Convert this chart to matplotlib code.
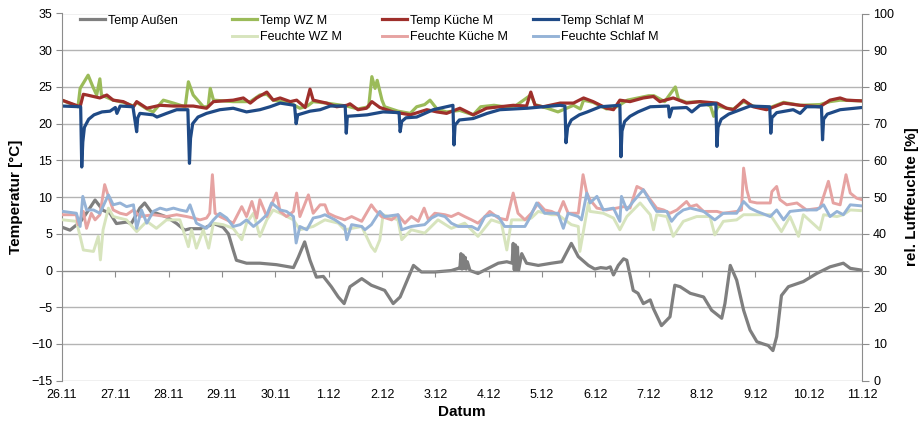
import matplotlib
matplotlib.use('Agg')
import matplotlib.pyplot as plt
from matplotlib.legend import Legend

plt.rcParams['font.family'] = ['Liberation Sans', 'DejaVu Sans']
plt.rcParams['font.size'] = 9

# Zeitachse in Tagen ab 26.11. 0:00
tage = ['26.11', '27.11', '28.11', '29.11', '30.11', '1.12', '2.12', '3.12',
        '4.12', '5.12', '6.12', '7.12', '8.12', '9.12', '10.12', '11.12']

# Temp Außen [°C]
t_aussen = [0, 0.15, 0.34, 0.43, 0.62, 0.77, 0.9, 1.02, 1.21, 1.3, 1.46, 1.55, 1.68, 1.77,
            1.96, 2.15, 2.3, 2.4, 2.65, 2.84, 3.02, 3.12, 3.21, 3.27, 3.46, 3.71, 4.02, 4.34,
            4.43, 4.55, 4.65, 4.77, 4.9, 5.05, 5.18, 5.29, 5.4, 5.62, 5.8, 6.05, 6.21, 6.34,
            6.59, 6.74, 6.99, 7.3, 7.43, 7.46, 7.48, 7.5, 7.52, 7.54, 7.56, 7.58, 7.6, 7.65,
            7.8, 7.99, 8.18, 8.34, 8.44, 8.46, 8.48, 8.5, 8.52, 8.54, 8.56, 8.62, 8.71, 8.93,
            9.18, 9.37, 9.55, 9.68, 9.87, 9.99, 10.1, 10.21, 10.28, 10.34, 10.43, 10.53, 10.59,
            10.65, 10.71, 10.8, 10.9, 11.03, 11.09, 11.24, 11.4, 11.49, 11.59, 11.78, 12.03,
            12.18, 12.37, 12.43, 12.53, 12.65, 12.78, 12.9, 13.03, 13.15, 13.24, 13.33, 13.4,
            13.49, 13.62, 13.9, 14.15, 14.4, 14.65, 14.78, 15.0]
v_aussen = [5.9, 5.5, 6.6, 7.5, 9.6, 8.2, 7.8, 6.4, 6.6, 6.4, 8.5, 9.2, 7.9, 7.8,
            7.3, 6.4, 5.5, 5.7, 5.7, 6.4, 5.9, 5.0, 2.8, 1.4, 1.0, 1.0, 0.8, 0.4,
            1.8, 3.9, 1.4, -0.9, -0.8, -2.2, -3.6, -4.5, -2.2, -1.1, -2.0, -2.7, -4.5, -3.6,
            0.7, -0.2, -0.2, 0.0, 0.3, 0.3, 2.3, 0.2, 2.1, 0.3, 1.8, 0.2, 1.2, 0.0,
            -0.4, 0.3, 1.0, 1.2, 1.0, 3.7, 0.1, 3.5, 0.1, 3.2, 0.0, 2.3, 1.0, 0.7,
            1.0, 1.2, 3.7, 1.9, 0.7, 0.2, 0.4, 0.3, 0.5, -0.6, 0.7, 1.6, 1.4,
            -0.6, -2.7, -3.1, -4.5, -4.0, -5.2, -7.5, -6.3, -2.0, -2.2, -3.1, -3.6,
            -5.4, -6.5, -4.5, 0.7, -1.3, -5.4, -8.1, -9.7, -10.0, -10.2, -10.9, -9.0,
            -3.4, -2.2, -1.5, -0.4, 0.5, 1.0, 0.3, 0.05]

# Temp WZ M [°C]
t_wz = [0, 0.3, 0.34, 0.49, 0.58, 0.65, 0.71, 0.74, 0.96, 1.15, 1.34, 1.4, 1.59, 1.71,
        1.9, 2.09, 2.31, 2.37, 2.46, 2.65, 2.74, 2.78, 2.84, 3.21, 3.53, 3.71, 3.84, 3.96,
        4.28, 4.46, 4.6, 4.71, 4.96, 5.34, 5.55, 5.75, 5.81, 5.87, 5.91, 6.0, 6.05, 6.3,
        6.53, 6.65, 6.8, 6.9, 7.03, 7.21, 7.46, 7.71, 7.85, 8.1, 8.3, 8.5, 8.79, 8.87,
        9.1, 9.3, 9.59, 9.72, 9.78, 9.96, 10.21, 10.4, 10.6, 10.8, 11.0, 11.1, 11.3, 11.5,
        11.56, 11.71, 11.96, 12.16, 12.22, 12.3, 12.46, 12.59, 12.78, 12.96, 13.21, 13.53,
        13.84, 14.21, 14.4, 14.59, 15.0]
v_wz = [23.2, 22.3, 24.8, 26.6, 25.0, 23.9, 26.1, 23.9, 23.2, 22.9, 22.4, 22.9, 22.0, 21.6,
        23.2, 22.8, 22.3, 25.7, 23.9, 22.3, 22.3, 24.8, 23.2, 23.0, 23.0, 23.9, 24.0, 23.2,
        22.8, 22.1, 22.4, 23.0, 22.8, 22.4, 22.0, 22.3, 26.4, 24.8, 25.9, 23.2, 22.3, 21.7,
        21.4, 22.3, 22.6, 23.2, 22.0, 21.6, 21.8, 21.2, 22.3, 22.5, 22.3, 22.4, 23.9, 22.6,
        22.1, 21.6, 22.5, 22.0, 23.2, 22.9, 22.0, 22.3, 23.2, 23.5, 23.8, 23.8, 23.0, 25.0,
        23.3, 22.9, 23.0, 22.4, 21.0, 22.4, 22.1, 22.0, 23.0, 22.4, 22.0, 22.9,
        22.5, 22.6, 23.0, 23.2, 23.1]

# Temp Küche M [°C]
t_kueche = [0, 0.34, 0.4, 0.47, 0.71, 0.84, 0.96, 1.15, 1.34, 1.4, 1.59, 1.84, 2.09, 2.46,
            2.71, 2.84, 3.21, 3.4, 3.53, 3.65, 3.84, 3.96, 4.09, 4.28, 4.4, 4.56, 4.65, 4.71,
            4.96, 5.15, 5.34, 5.4, 5.55, 5.71, 5.81, 5.96, 6.21, 6.53, 6.84, 7.03, 7.21, 7.46,
            7.71, 7.96, 8.21, 8.46, 8.71, 8.79, 8.87, 9.02, 9.34, 9.59, 9.78, 9.96, 10.21,
            10.34, 10.46, 10.65, 10.9, 11.09, 11.21, 11.46, 11.71, 11.96, 12.28, 12.46, 12.59,
            12.78, 12.96, 13.21, 13.53, 13.84, 14.21, 14.4, 14.59, 14.71, 15.0]
v_kueche = [23.2, 22.3, 24.0, 23.9, 23.5, 23.9, 23.2, 23.0, 22.3, 23.0, 22.1, 22.5, 22.4, 22.4,
            22.1, 23.0, 23.2, 23.5, 22.8, 23.5, 24.3, 23.2, 23.5, 23.0, 23.2, 22.2, 24.7, 23.2,
            22.8, 22.3, 22.5, 22.7, 21.9, 22.1, 23.0, 22.2, 21.6, 21.2, 21.9, 21.6, 21.4, 22.1,
            21.2, 22.1, 22.3, 22.5, 22.4, 24.3, 22.5, 22.3, 22.8, 22.8, 23.5, 23.0, 22.1,
            21.9, 23.2, 23.0, 23.5, 23.7, 23.0, 23.5, 22.8, 23.0, 22.8, 22.1, 21.9,
            23.2, 22.3, 21.9, 22.8, 22.5, 22.3, 23.2, 23.5, 23.2, 23.1]

# Temp Schlaf M [°C]
t_schlaf = [0, 0.35, 0.37, 0.39, 0.42, 0.5, 0.6, 0.75, 0.9, 1.0, 1.03, 1.09, 1.33, 1.4,
            1.42, 1.46, 1.71, 1.78, 1.96, 2.15, 2.36, 2.39, 2.41, 2.45, 2.55, 2.71, 2.96,
            3.21, 3.46, 3.71, 3.9, 4.09, 4.36, 4.39, 4.42, 4.65, 4.84, 5.03, 5.31, 5.33,
            5.35, 5.72, 6.02, 6.32, 6.34, 6.37, 6.45, 6.65, 6.96, 7.33, 7.35, 7.37, 7.45,
            7.71, 7.97, 8.21, 8.72, 9.34, 9.43, 9.45, 9.48, 9.55, 9.7, 9.85, 10.09, 10.46,
            10.48, 10.5, 10.55, 10.65, 10.8, 11.03, 11.37, 11.39, 11.44, 11.71, 11.81, 11.96,
            12.26, 12.28, 12.3, 12.36, 12.5, 12.9, 13.27, 13.29, 13.31, 13.4, 13.71, 13.84,
            13.96, 14.24, 14.26, 14.28, 14.35, 14.59, 15.0]
v_schlaf = [22.4, 22.3, 14.1, 17.5, 19.5, 20.6, 21.2, 21.6, 21.7, 22.2, 21.4, 22.4, 22.3, 18.9,
            20.8, 21.4, 21.2, 20.9, 21.4, 21.9, 21.9, 14.6, 18.0, 20.0, 20.9, 21.4, 21.9,
            22.1, 21.6, 21.9, 22.3, 22.8, 22.5, 20.0, 21.2, 21.7, 21.9, 22.4, 22.4, 18.7,
            21.0, 21.2, 21.6, 21.5, 18.9, 20.3, 20.8, 20.9, 21.9, 22.5, 17.1, 19.8, 20.5,
            20.7, 21.4, 21.9, 22.1, 22.5, 22.4, 17.4, 19.5, 20.5, 21.2, 21.6, 22.3, 22.5,
            15.5, 19.0, 20.3, 21.0, 21.6, 22.3, 22.4, 20.9, 22.1, 22.2, 21.6, 22.5,
            22.7, 16.9, 19.5, 20.6, 21.3, 22.4, 22.3, 18.7, 20.8, 21.5, 21.9, 21.4,
            22.3, 22.3, 17.8, 20.6, 21.3, 21.9, 22.2]

# Feuchte WZ M [%]
t_f_wz = [0.02, 0.27, 0.34, 0.40, 0.59, 0.68, 0.72, 0.77, 0.87, 0.96, 1.21, 1.40, 1.59, 1.77,
          1.96, 2.21, 2.37, 2.43, 2.52, 2.65, 2.75, 2.84, 3.02, 3.21, 3.37, 3.46, 3.59, 3.71,
          3.84, 3.96, 4.15, 4.34, 4.46, 4.71, 4.93, 5.18, 5.30, 5.62, 5.80, 5.87, 5.96, 6.02,
          6.30, 6.37, 6.55, 6.80, 7.05, 7.30, 7.55, 7.80, 8.05, 8.24, 8.34, 8.43, 8.68, 8.80,
          8.93, 9.18, 9.30, 9.55, 9.68, 9.71, 9.87, 9.90, 10.15, 10.34, 10.46, 10.59, 10.84,
          11.03, 11.09, 11.15, 11.34, 11.46, 11.65, 11.90, 12.15, 12.24, 12.40, 12.65, 12.78,
          13.03, 13.28, 13.49, 13.65, 13.81, 13.90, 14.21, 14.28, 14.53, 14.65, 14.78, 15.0]
v_f_wz = [43.8, 43.4, 39.3, 35.6, 35.2, 39.3, 32.9, 41.1, 47.0, 44.7, 43.8, 40.6, 43.4, 41.5,
          43.8, 43.8, 36.5, 41.1, 36.1, 41.1, 36.1, 42.9, 42.5, 41.5, 38.4, 42.9, 45.6, 39.3,
          43.8, 46.5, 45.2, 43.8, 41.1, 42.0, 43.8, 42.9, 41.1, 42.0, 36.5, 35.2, 38.4, 45.2,
          43.8, 38.4, 41.1, 40.2, 43.8, 41.5, 42.9, 39.3, 43.8, 42.9, 35.6, 43.8, 43.8, 44.3,
          46.1, 45.2, 45.2, 42.5, 42.0, 35.2, 48.4, 46.1, 45.6, 44.3, 41.1, 44.7, 48.4,
          45.2, 41.1, 45.2, 44.7, 39.3, 43.4, 44.7, 44.7, 39.7, 43.4, 43.8, 45.2,
          45.2, 45.2, 40.6, 44.7, 39.3, 45.2, 41.1, 45.2, 44.7, 45.2, 46.5, 46.3]

# Feuchte Küche M [%]
t_f_kueche = [0.02, 0.27, 0.30, 0.40, 0.46, 0.55, 0.62, 0.71, 0.80, 0.87, 0.96, 1.09, 1.21,
              1.34, 1.46, 1.71, 1.96, 2.15, 2.34, 2.46, 2.59, 2.71, 2.77, 2.82, 2.87, 2.96,
              3.09, 3.21, 3.37, 3.46, 3.56, 3.65, 3.71, 3.84, 4.02, 4.09, 4.21, 4.34, 4.40,
              4.46, 4.62, 4.71, 4.84, 4.93, 4.99, 5.12, 5.30, 5.43, 5.62, 5.80, 5.87, 5.99,
              6.18, 6.30, 6.43, 6.55, 6.68, 6.79, 6.87, 6.99, 7.18, 7.30, 7.43, 7.55, 7.68,
              7.80, 7.93, 8.02, 8.18, 8.34, 8.46, 8.55, 8.68, 8.80, 8.93, 9.05, 9.18, 9.30,
              9.40, 9.49, 9.68, 9.77, 9.84, 9.90, 10.03, 10.21, 10.40, 10.53, 10.65, 10.78,
              10.90, 11.03, 11.15, 11.28, 11.40, 11.53, 11.71, 11.78, 11.90, 12.03, 12.28,
              12.40, 12.65, 12.74, 12.78, 12.84, 12.90, 13.03, 13.28, 13.31, 13.40, 13.46,
              13.59, 13.78, 13.96, 14.21, 14.37, 14.46, 14.59, 14.70, 14.78, 14.90, 15.0]
v_f_kueche = [45.2, 45.2, 42.5, 46.1, 41.5, 45.6, 43.8, 45.2, 53.4, 50.2, 46.5, 45.6, 45.2,
              46.5, 44.7, 45.2, 44.7, 45.2, 44.7, 44.3, 43.8, 44.3, 45.6, 56.1, 45.6, 44.7,
              43.8, 42.9, 47.4, 44.7, 48.8, 44.3, 49.3, 44.7, 51.1, 46.1, 44.7, 46.1, 51.1,
              44.7, 50.6, 45.6, 47.9, 47.9, 45.6, 44.7, 43.8, 44.7, 43.4, 47.9, 46.5, 44.7,
              43.8, 45.2, 42.9, 44.7, 43.4, 47.0, 43.8, 45.6, 45.2, 44.7, 45.6, 44.7, 43.8,
              42.9, 44.7, 46.1, 44.3, 43.8, 51.1, 45.6, 43.8, 45.6, 48.4, 46.5, 46.1, 45.2,
              48.8, 45.6, 45.6, 56.1, 51.1, 49.3, 47.0, 46.5, 47.0, 47.4, 47.0, 52.9,
              52.0, 49.3, 47.0, 46.5, 45.6, 46.5, 48.8, 47.4, 47.9, 46.1, 46.1,
              45.6, 46.1, 46.5, 57.9, 52.0, 48.8, 48.4, 48.4, 51.5, 52.9, 49.3,
              47.9, 48.4, 46.5, 47.0, 54.3, 48.4, 47.9, 56.1, 51.1, 49.7, 49.3]

# Feuchte Schlaf M [%]
t_f_schlaf = [0.02, 0.27, 0.34, 0.39, 0.46, 0.59, 0.71, 0.87, 0.96, 1.09, 1.21, 1.34, 1.40,
              1.49, 1.59, 1.71, 1.84, 1.96, 2.09, 2.21, 2.34, 2.40, 2.52, 2.71, 2.84, 2.96,
              3.09, 3.21, 3.34, 3.46, 3.59, 3.71, 3.84, 3.93, 4.09, 4.21, 4.34, 4.39, 4.46,
              4.59, 4.71, 4.84, 4.93, 5.12, 5.30, 5.34, 5.43, 5.62, 5.68, 5.80, 5.96, 6.05,
              6.30, 6.37, 6.55, 6.80, 6.93, 7.05, 7.18, 7.30, 7.43, 7.68, 7.80, 7.93, 8.05,
              8.18, 8.30, 8.55, 8.68, 8.77, 8.90, 9.05, 9.30, 9.40, 9.49, 9.68, 9.74, 9.84,
              9.90, 10.03, 10.15, 10.34, 10.46, 10.49, 10.59, 10.71, 10.90, 11.03, 11.15,
              11.34, 11.43, 11.53, 11.65, 11.78, 12.03, 12.24, 12.40, 12.65, 12.78, 12.90,
              13.03, 13.28, 13.40, 13.53, 13.65, 13.90, 14.15, 14.28, 14.40, 14.53, 14.65,
              14.78, 15.0]
v_f_schlaf = [46.1, 45.6, 42.0, 50.2, 46.5, 46.5, 45.6, 50.6, 47.9, 48.4, 47.4, 47.9, 41.5,
              46.5, 42.9, 46.1, 47.0, 46.5, 47.0, 46.5, 46.1, 47.9, 42.9, 41.5, 43.8, 45.6,
              44.3, 42.0, 42.5, 43.8, 42.0, 43.4, 45.2, 48.4, 46.5, 46.1, 44.7, 37.5, 42.0,
              41.1, 44.3, 44.7, 45.2, 43.8, 42.0, 38.4, 42.5, 42.0, 41.1, 42.5, 46.1, 44.7,
              45.2, 41.1, 42.0, 42.5, 44.3, 45.2, 44.7, 42.9, 42.0, 42.0, 41.1, 44.7, 45.2,
              44.7, 42.0, 42.0, 42.0, 44.3, 48.4, 45.6, 45.6, 41.5, 45.6, 44.7, 43.8, 51.1,
              48.4, 50.2, 46.5, 47.0, 43.4, 50.2, 46.5, 48.8, 52.0, 48.8, 46.1,
              46.1, 43.4, 45.2, 46.5, 47.0, 46.1, 43.8, 45.6, 45.6, 48.8, 47.0,
              46.1, 44.7, 46.5, 43.8, 46.1, 46.5, 46.5, 47.9, 44.7, 46.1, 45.2,
              47.9, 47.6]

grau = '#7f7f7f'
gruen = '#9bbb59'
rot = '#9e2f2b'
blau = '#1f4a86'
gruen_hell = '#d7e4bd'
rosa = '#e6a3a2'
blau_hell = '#95b3d7'
achse = '#8c8c8c'

fig = plt.figure(figsize=(9.22, 4.25), dpi=100)
ax = fig.add_axes([62 / 922, 1 - 380.7 / 425, 800 / 922, 367.2 / 425])
ax2 = ax.twinx()

lw = 2.3
l_aussen, = ax.plot(t_aussen, v_aussen, color=grau, lw=lw, label='Temp Außen')
l_wz, = ax.plot(t_wz, v_wz, color=gruen, lw=lw, label='Temp WZ M')
l_kueche, = ax.plot(t_kueche, v_kueche, color=rot, lw=lw, label='Temp Küche M')
l_schlaf, = ax.plot(t_schlaf, v_schlaf, color=blau, lw=lw, label='Temp Schlaf M')

l_f_wz, = ax2.plot(t_f_wz, v_f_wz, color=gruen_hell, lw=2.1, label='Feuchte WZ M')
l_f_kueche, = ax2.plot(t_f_kueche, v_f_kueche, color=rosa, lw=2.1, label='Feuchte Küche M')
l_f_schlaf, = ax2.plot(t_f_schlaf, v_f_schlaf, color=blau_hell, lw=2.1, label='Feuchte Schlaf M')

ax.set_xlim(0, 15)
ax.set_ylim(-15, 35)
ax2.set_ylim(0, 100)
ax.set_yticks(range(-15, 36, 5))
ax2.set_yticks(range(0, 101, 10))

ax.yaxis.grid(True, color='#b4b4b4', lw=1.0)
ax.set_axisbelow(True)

# x-Achse kreuzt bei 0 °C, Beschriftung unten
ax.spines['bottom'].set_position(('data', 0))
ax.spines['bottom'].set_color(achse)
ax.set_xticks(range(16))
ax.tick_params(axis='x', direction='out', length=4, color=achse, labelbottom=False)
sec = ax.secondary_xaxis('bottom')
sec.set_xticks(range(16), labels=tage)
sec.tick_params(length=0, pad=6)
sec.spines['bottom'].set_visible(False)
sec.set_xlabel('Datum', fontsize=11, fontweight='bold', labelpad=3)

for s in ['top', 'right']:
    ax.spines[s].set_visible(False)
ax.spines['left'].set_color(achse)
for s in ['top', 'left', 'bottom']:
    ax2.spines[s].set_visible(False)
ax2.spines['right'].set_color(achse)
ax.tick_params(axis='y', direction='out', length=4, color=achse, pad=3)
ax2.tick_params(axis='y', direction='out', length=5, color=achse, pad=3)

ax.set_ylabel('Temperatur [°C]', fontsize=11, fontweight='bold', labelpad=6)
ax2.set_ylabel('rel. Luftfeuchte [%]', fontsize=11, fontweight='bold', labelpad=8)

# Legende in vier Spalten wie im Original
spalten = [([l_aussen], 0.0225), ([l_wz, l_f_wz], 0.2125),
           ([l_kueche, l_f_kueche], 0.40), ([l_schlaf, l_f_schlaf], 0.589)]
for handles, xpos in spalten:
    leg = Legend(ax2, handles, [h.get_label() for h in handles], loc='upper left',
                 bbox_to_anchor=(xpos, 0.997), frameon=False, borderpad=0, borderaxespad=0,
                 handlelength=2.0, handletextpad=0.25, labelspacing=0.38, fontsize=9)
    ax2.add_artist(leg)

fig.savefig('out.png', dpi=100)
